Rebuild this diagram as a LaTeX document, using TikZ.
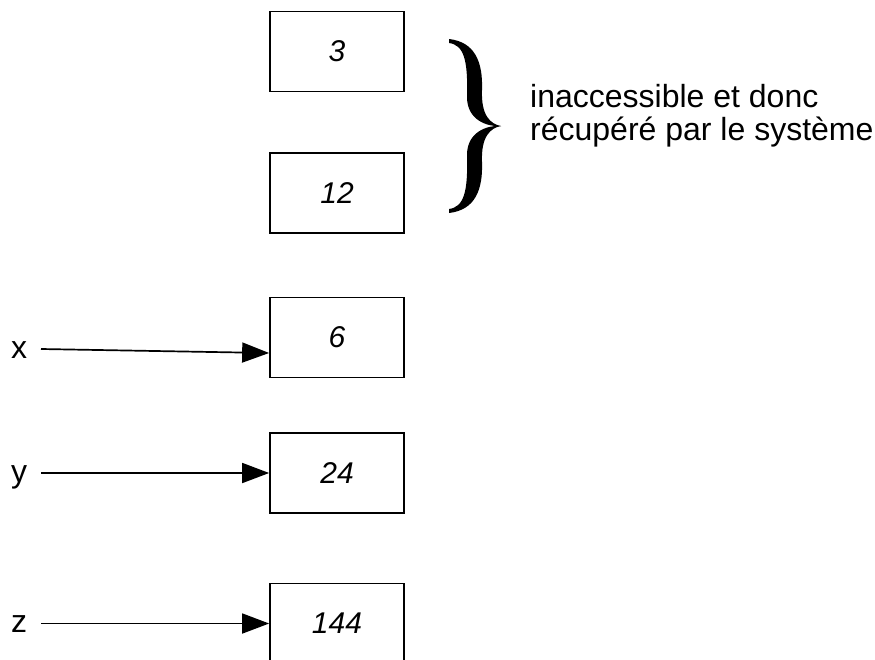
\documentclass[tikz,border=0pt]{standalone}
\usepackage{fontspec}
\setmainfont{Liberation Sans}
\usetikzlibrary{arrows.meta,calc}
\tikzset{
  px/.style={x=1pt,y=-1pt},
  membox/.style={draw, line width=1.7pt, minimum width=134pt, minimum height=80pt, inner sep=0pt, font=\fontsize{30}{34}\selectfont\itshape},
  varlabel/.style={inner sep=0pt, font=\fontsize{32}{36}\selectfont},
  ptr/.style={line width=1.7pt, -{Triangle[length=27pt,width=20pt]}},
}
\begin{document}
\begin{tikzpicture}[px]
\useasboundingbox (0,0) rectangle (875,659);
\clip (0,0) rectangle (875,659);
\node[membox] (b1) at (337,51.5) {3};
\node[membox] (b2) at (337,193) {12};
\node[membox] (b3) at (337,337.5) {6};
\node[membox] (b4) at (337,473) {24};
\node[membox] (b5) at (337,623.5) {144};
\node[varlabel, anchor=base] (x) at (19,358) {x};
\node[varlabel, anchor=base] (y) at (19,482) {y};
\node[varlabel, anchor=base] (z) at (19,632) {z};
\coordinate (xs) at (41,349);
\coordinate (ys) at (41,473);
\coordinate (zs) at (41,623.5);
\draw[ptr] (xs) -- ($(b3.west)+(0,15.5)$);
\draw[ptr] (ys) -- (b4.west);
\draw[ptr] (zs) -- (b5.west);
% curly brace
\fill (449,39) .. controls (475,42) and (483,62) .. (482,90)
  .. controls (481,115) and (490,124) .. (501,126)
  .. controls (487,127) and (467,120) .. (467,97)
  .. controls (468,60) and (464,45) .. (449,43) -- cycle;
\fill (449,213) .. controls (475,210) and (483,190) .. (482,162)
  .. controls (481,137) and (490,128) .. (501,126)
  .. controls (487,125) and (467,132) .. (467,155)
  .. controls (468,192) and (464,207) .. (449,209) -- cycle;
\node[anchor=west, align=left, inner sep=0pt, font=\fontsize{32}{33}\selectfont] (txt) at (530,116) {inaccessible et donc\\récupéré par le système};
\end{tikzpicture}
\end{document}
